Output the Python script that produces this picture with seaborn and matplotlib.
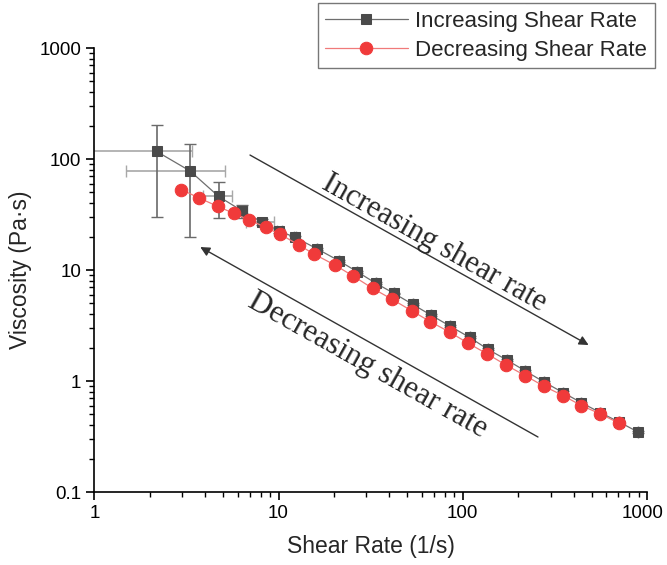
import numpy as np
import pandas as pd
import seaborn as sns
import matplotlib
matplotlib.use("Agg")
import matplotlib.pyplot as plt
from matplotlib.ticker import LogLocator, FuncFormatter, NullFormatter
from matplotlib.transforms import ScaledTranslation

# ---- data ----
inc_x = [2.18, 3.31, 4.73, 6.36, 8.1, 10.1, 12.3, 16.2, 21.3, 26.7, 33.8, 42.3, 53.4,
         67.1, 85.1, 109, 137, 173, 219, 276, 351, 441, 559, 706, 895]
inc_y = [117, 78, 46, 34, 27.2, 22.4, 19.7, 15.5, 12.1, 9.66, 7.58, 6.17, 4.91,
         3.93, 3.13, 2.47, 1.93, 1.55, 1.23, 0.98, 0.785, 0.637, 0.518, 0.427, 0.347]
inc_xerr = [1.2, 1.83, 0.85, 0.4, 1.4, 0.3, 0.2, 0, 0, 0, 0, 0, 0,
            0, 0, 0, 0, 0, 0, 0, 0, 0, 0, 0, 0]
inc_yerr = [87, 58, 16.5, 4.5, 1.5, 0.8, 0.5, 0.3, 0.2, 0.2, 0.15, 0.1, 0.1,
            0.08, 0.06, 0.05, 0.04, 0.03, 0.03, 0.02, 0.02, 0.015, 0.012, 0.01, 0.008]

dec_x = [2.97, 3.71, 4.67, 5.73, 6.93, 8.51, 10.2, 12.9, 15.6, 20.2, 25.4, 32.4, 41.4,
         52.7, 66.8, 85.1, 107, 136, 172, 218, 275, 351, 441, 559, 706]
dec_y = [53, 44.5, 37.5, 32.3, 28.3, 24.2, 21.0, 16.8, 13.9, 11.1, 8.83, 6.84, 5.44,
         4.30, 3.42, 2.75, 2.19, 1.75, 1.39, 1.12, 0.90, 0.738, 0.600, 0.505, 0.416]

x_ticks = [1, 10, 100, 1000]
y_ticks = [0.1, 1, 10, 100, 1000]

inc_label = "Increasing Shear Rate"
dec_label = "Decreasing Shear Rate"

df_inc = pd.DataFrame({"x": inc_x, "y": inc_y})
df_dec = pd.DataFrame({"x": dec_x, "y": dec_y})

sns.set_style("ticks")
plt.rcParams["font.family"] = ["Liberation Sans", "DejaVu Sans"]

fig = plt.figure(figsize=(6.67, 5.65), dpi=100)
ax = fig.add_axes([0.1414, 0.1292, 0.8286, 0.7858])

sq_color = "#4a4a4a"
red_color = "#f03a3a"

# error bars
ax.errorbar(inc_x, inc_y, xerr=inc_xerr, fmt="none", ecolor="#a8a8a8",
            elinewidth=1.2, capsize=4, capthick=1.0, zorder=2)
ax.errorbar(inc_x, inc_y, yerr=inc_yerr, fmt="none", ecolor="#6a6a6a",
            elinewidth=1.2, capsize=4, capthick=1.0, zorder=2)

sns.lineplot(data=df_inc, x="x", y="y", ax=ax, sort=False, estimator=None,
             color="#6e6e6e", linewidth=0.9, marker="s", markersize=7.5,
             markerfacecolor=sq_color, markeredgecolor=sq_color,
             label=inc_label, zorder=3)
sns.lineplot(data=df_dec, x="x", y="y", ax=ax, sort=False, estimator=None,
             color="#f07a7a", linewidth=0.9, marker="o", markersize=9,
             markerfacecolor=red_color, markeredgecolor=red_color,
             label=dec_label, zorder=4)

ax.set_xscale("log")
ax.set_yscale("log")
ax.set_xlim(1, 1000)
ax.set_ylim(0.1, 1000)

fmt = FuncFormatter(lambda v, p: f"{v:g}")
ax.set_xticks(x_ticks)
ax.set_yticks(y_ticks)
ax.xaxis.set_major_formatter(fmt)
ax.yaxis.set_major_formatter(fmt)
ax.xaxis.set_minor_locator(LogLocator(base=10, subs=np.arange(2, 10)))
ax.yaxis.set_minor_locator(LogLocator(base=10, subs=np.arange(2, 10)))
ax.xaxis.set_minor_formatter(NullFormatter())
ax.yaxis.set_minor_formatter(NullFormatter())
ax.tick_params(which="major", direction="out", length=6, width=1.2, labelsize=13.5,
               color="black", labelcolor="black")
ax.tick_params(which="minor", direction="out", length=3.5, width=1.0, color="black")

# nudge the last x tick label so it stays inside the figure
last_lbl = ax.xaxis.get_majorticklabels()[-1]
last_lbl.set_transform(last_lbl.get_transform() +
                       ScaledTranslation(-3 / 72, 0, fig.dpi_scale_trans))

for s in ["top", "right"]:
    ax.spines[s].set_visible(False)
for s in ["left", "bottom"]:
    ax.spines[s].set_linewidth(1.2)
    ax.spines[s].set_color("black")

ax.set_xlabel("Shear Rate (1/s)", fontsize=16.5, labelpad=9)
ax.set_ylabel("Viscosity (Pa\u00b7s)", fontsize=16.5, labelpad=5)

# arrows and annotations
ax.annotate("", xy=(482, 2.11), xytext=(7.0, 108.6),
            arrowprops=dict(arrowstyle="-|>", color="#333333", lw=1.0,
                            mutation_scale=14, shrinkA=0, shrinkB=0))
ax.annotate("", xy=(3.76, 16.1), xytext=(256, 0.313),
            arrowprops=dict(arrowstyle="-|>", color="#333333", lw=1.0,
                            mutation_scale=14, shrinkA=0, shrinkB=0))
ax.text(69.6, 17.5, "Increasing shear rate", family=["Liberation Serif", "DejaVu Serif"],
        fontsize=22, rotation=-29.3, rotation_mode="anchor", ha="center", va="center")
ax.text(30.5, 1.39, "Decreasing shear rate", family=["Liberation Serif", "DejaVu Serif"],
        fontsize=22.5, rotation=-29.3, rotation_mode="anchor", ha="center", va="center")

leg = ax.legend(loc="upper right", bbox_to_anchor=(655 / 667, 1 - 3 / 565),
                bbox_transform=fig.transFigure, fontsize=16, frameon=True,
                fancybox=False, borderpad=0.35, handlelength=3.7, handletextpad=0.35,
                labelspacing=0.35, borderaxespad=0)
leg.get_frame().set_edgecolor("#555555")
leg.get_frame().set_linewidth(1.0)

fig.savefig("out.png", dpi=100)
